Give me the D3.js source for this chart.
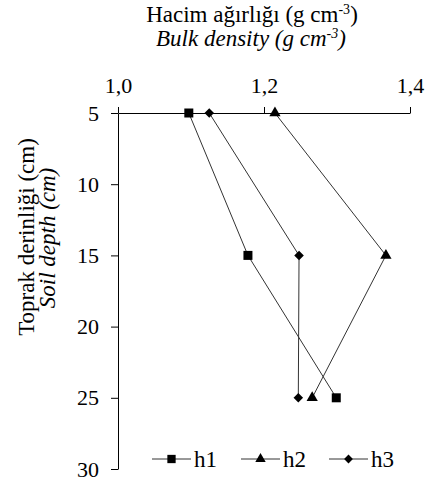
<!DOCTYPE html>
<html>
<head>
<meta charset="utf-8">
<script src="https://cdn.jsdelivr.net/npm/d3@7"></script>
<style>
  body { margin: 0; background: #fff; }
  svg text { font-family: "Liberation Serif", "Times New Roman", serif; fill: #000; }
</style>
</head>
<body>
<div id="chart"></div>
<script>
// depths (cm) and bulk density (g cm-3) per treatment
const depths = [5, 15, 25];
const h1 = [1.097, 1.178, 1.299];
const h2 = [1.215, 1.367, 1.266];
const h3 = [1.125, 1.248, 1.247];
const seriesNames = ["h1", "h2", "h3"];
const xTicks = [1.0, 1.2, 1.4];
const yTicks = [5, 10, 15, 20, 25, 30];

const width = 426, height = 481;
const margin = { top: 113, right: 16, bottom: 12, left: 118 };
const serif = "'Liberation Serif', 'Times New Roman', serif";

const svg = d3.select("#chart").append("svg")
    .attr("width", width)
    .attr("height", height);

const x = d3.scaleLinear().domain([1.0, 1.4]).range([margin.left, width - margin.right]);
const y = d3.scaleLinear().domain([5, 30]).range([margin.top, height - margin.bottom]);

// comma as decimal separator
const fmt = d => d3.format(".1f")(d).replace(".", ",");

// top x axis
svg.append("g")
    .attr("transform", `translate(0,${margin.top})`)
    .call(d3.axisTop(x).tickValues(xTicks).tickFormat(fmt).tickSize(6).tickPadding(14).tickSizeOuter(0))
    .call(g => g.selectAll("text").attr("dy", "0").style("font-size", "22px").style("font-family", serif));

// left y axis
svg.append("g")
    .attr("transform", `translate(${margin.left},0)`)
    .call(d3.axisLeft(y).tickValues(yTicks).tickSize(7).tickPadding(12).tickSizeOuter(0))
    .call(g => g.selectAll("text").style("font-size", "22px").style("font-family", serif));

svg.selectAll(".domain, .tick line").attr("stroke", "#000");

// titles
svg.append("text").attr("x", 252).attr("y", 22).attr("text-anchor", "middle")
    .style("font-size", "23px")
    .html('Hacim ağırlığı (g cm<tspan dy="-8" font-size="14px">-3</tspan><tspan dy="8">)</tspan>');
svg.append("text").attr("x", 251).attr("y", 46).attr("text-anchor", "middle")
    .style("font-size", "23px").style("font-style", "italic")
    .html('Bulk density (g cm<tspan dy="-8" font-size="14px">-3</tspan><tspan dy="8">)</tspan>');

svg.append("text").attr("transform", "translate(34,237) rotate(-90)").attr("text-anchor", "middle")
    .style("font-size", "23px").text("Toprak derinliği (cm)");
svg.append("text").attr("transform", "translate(55,238) rotate(-90)").attr("text-anchor", "middle")
    .style("font-size", "23px").style("font-style", "italic").text("Soil depth (cm)");

// series
const data = [h1, h2, h3].map((vals, i) => ({
    name: seriesNames[i],
    points: vals.map((v, j) => ({ v, d: depths[j] }))
}));
const symbols = [d3.symbolSquare, d3.symbolTriangle, d3.symbolDiamond2];
const symSize = [81, 55, 58];

const line = d3.line().x(p => x(p.v)).y(p => y(p.d));

data.forEach((s, i) => {
    svg.append("path").datum(s.points)
        .attr("d", line)
        .attr("fill", "none")
        .attr("stroke", "#333")
        .attr("stroke-width", 1);
    svg.selectAll(null).data(s.points).enter().append("path")
        .attr("transform", p => `translate(${x(p.v)},${y(p.d)})`)
        .attr("d", d3.symbol().type(symbols[i]).size(symSize[i]))
        .attr("fill", "#000");
});

// legend
const legendX = [152, 241, 329];
const legendY = 459;
data.forEach((s, i) => {
    const g = svg.append("g").attr("transform", `translate(${legendX[i]},${legendY})`);
    g.append("line").attr("x1", 0).attr("x2", 39).attr("stroke", "#333");
    g.append("path").attr("transform", "translate(19.5,0)")
        .attr("d", d3.symbol().type(symbols[i]).size(symSize[i] * 0.85))
        .attr("fill", "#000");
    g.append("text").attr("x", 42).attr("y", 8).style("font-size", "23px").text(s.name);
});
</script>
</body>
</html>
